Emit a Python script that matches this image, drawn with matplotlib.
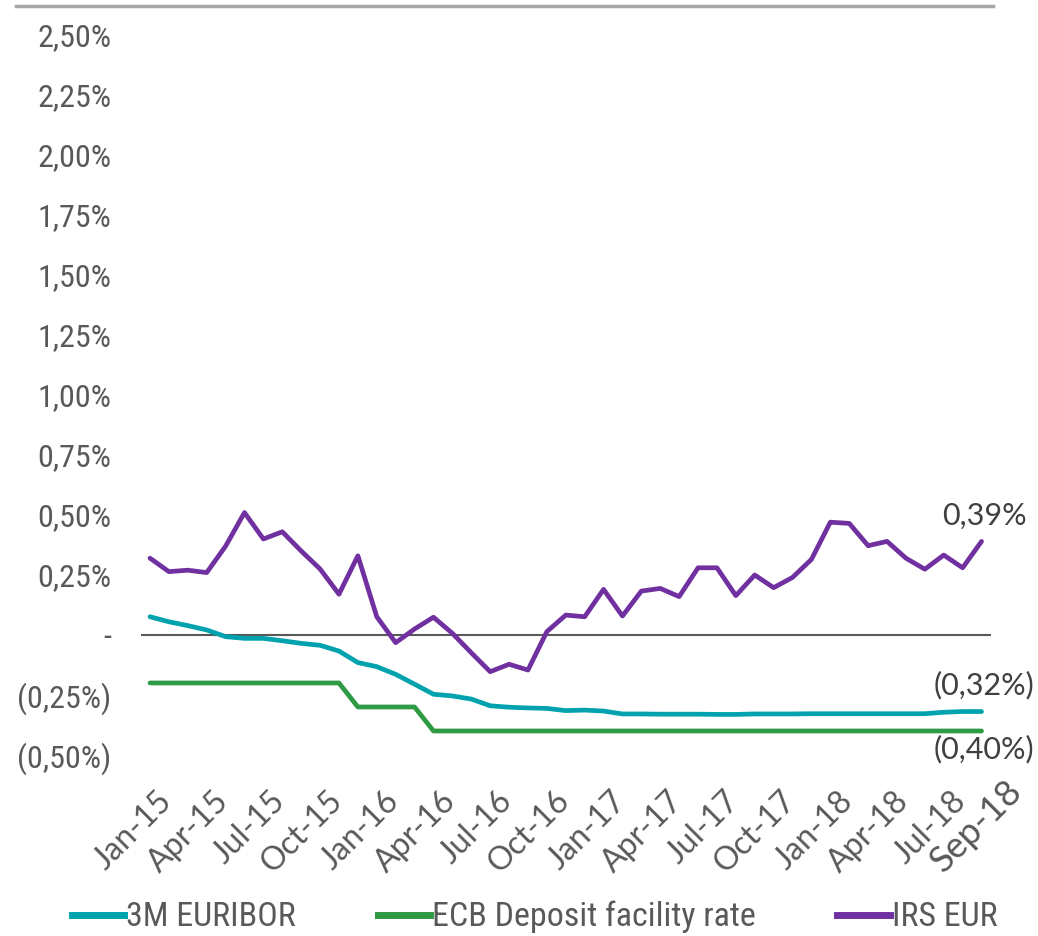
import matplotlib
matplotlib.use("Agg")
import matplotlib.pyplot as plt
from matplotlib import font_manager
from matplotlib.font_manager import FontProperties
from matplotlib.ticker import FuncFormatter
from matplotlib.transforms import ScaledTranslation

# monthly series Jan-15 .. Sep-18 (in %)
months = ["Jan-15", "Feb-15", "Mar-15", "Apr-15", "May-15", "Jun-15", "Jul-15", "Aug-15", "Sep-15", "Oct-15", "Nov-15", "Dec-15",
          "Jan-16", "Feb-16", "Mar-16", "Apr-16", "May-16", "Jun-16", "Jul-16", "Aug-16", "Sep-16", "Oct-16", "Nov-16", "Dec-16",
          "Jan-17", "Feb-17", "Mar-17", "Apr-17", "May-17", "Jun-17", "Jul-17", "Aug-17", "Sep-17", "Oct-17", "Nov-17", "Dec-17",
          "Jan-18", "Feb-18", "Mar-18", "Apr-18", "May-18", "Jun-18", "Jul-18", "Aug-18", "Sep-18"]

euribor = [0.076, 0.055, 0.039, 0.021, -0.007, -0.014, -0.014, -0.024, -0.035, -0.043, -0.067, -0.115,
           -0.132, -0.164, -0.205, -0.247, -0.254, -0.267, -0.295, -0.301, -0.304, -0.306, -0.315, -0.313,
           -0.317, -0.329, -0.329, -0.330, -0.330, -0.330, -0.331, -0.331, -0.329, -0.329, -0.329, -0.328,
           -0.328, -0.328, -0.328, -0.328, -0.328, -0.328, -0.322, -0.319, -0.319]

ecb = [-0.20] * 11 + [-0.30] * 4 + [-0.40] * 30

irs = [0.32, 0.264, 0.27, 0.26, 0.37, 0.51, 0.40, 0.43, 0.35, 0.275, 0.17, 0.33,
       0.076, -0.032, 0.025, 0.074, 0.007, -0.074, -0.153, -0.122, -0.146, 0.014, 0.083, 0.076,
       0.19, 0.079, 0.183, 0.194, 0.16, 0.28, 0.28, 0.164, 0.25, 0.197, 0.24, 0.315,
       0.47, 0.465, 0.372, 0.39, 0.32, 0.274, 0.333, 0.28, 0.39]

series_names = ["3M EURIBOR", "ECB Deposit facility rate", "IRS EUR"]
end_labels = ["(0,32%)", "(0,40%)", "0,39%"]

colors = ["#00A3AD", "#2E9A44", "#7030A0"]
grey = "#595959"


def condensed_font():
    # look for a regular-weight condensed/narrow face among installed fonts
    narrow_words = ("condensed", "narrow")
    for pref in ("Roboto", "Open Sans", "Noto Sans", "Liberation", "DejaVu", ""):
        for f in font_manager.fontManager.ttflist:
            st = str(f.stretch).lower()
            fn = f.fname.lower()
            is_narrow = (any(w in st for w in narrow_words) or any(w in f.name.lower() for w in narrow_words)
                         or any(w in fn for w in narrow_words))
            if not is_narrow or "extra" in st or "ultra" in st:
                continue
            if f.style != "normal" or f.weight not in (400, "normal", "regular"):
                continue
            if "semi" in fn or "semi" in st:
                continue
            if f.name.startswith(pref):
                return FontProperties(fname=f.fname)
    return FontProperties(family="Roboto")


cond = condensed_font()
plt.rcParams['font.family'] = ['Lato', 'DejaVu Sans']

fig = plt.figure(figsize=(10.38, 9.36), dpi=100)
ax = fig.add_axes([0.1354, 0.1934, 0.8193, 0.7692])

x = list(range(len(months)))
for vals, c in zip([euribor, ecb, irs], colors):
    ax.plot(x, vals, color=c, lw=3.4, solid_capstyle="round", solid_joinstyle="round", zorder=3)
ax.axhline(0, color=grey, lw=1.5, zorder=2)

ax.set_xlim(-0.5, 44.5)
ax.set_ylim(-0.5, 2.5)
ax.set_yticks([i * 0.25 for i in range(-2, 11)])


def fmt(v, pos):
    if abs(v) < 1e-9:
        return "-"
    s = f"{abs(v):.2f}%".replace(".", ",")
    return f"({s})" if v < 0 else s


ax.yaxis.set_major_formatter(FuncFormatter(fmt))
for sp in ax.spines.values():
    sp.set_visible(False)
ax.tick_params(axis="y", length=0, pad=21, labelcolor=grey)
for t in ax.get_yticklabels():
    t.set_fontproperties(cond)
    t.set_fontsize(23)
ax.tick_params(axis="x", length=0, pad=22)

xt = list(range(0, 43, 3)) + [44]
ax.set_xticks(xt)
ax.set_xticklabels([months[i] for i in xt], rotation=45, ha="right", rotation_mode="anchor",
                   fontsize=23, color=grey)
xlabels = ax.get_xticklabels()
for t in xlabels[:-1]:
    t.set_transform(t.get_transform() + ScaledTranslation(5 / 72, 0, fig.dpi_scale_trans))
xlabels[-1].set_fontsize(26)
xlabels[-1].set_transform(xlabels[-1].get_transform() + ScaledTranslation(17 / 72, 8 / 72, fig.dpi_scale_trans))

# end-of-series labels
lab_font = dict(fontsize=22, color="#404040", ha="center")
ax.annotate(end_labels[2], (44, irs[-1]), xytext=(2, 8), textcoords="offset points", va="bottom", **lab_font)
ax.annotate(end_labels[0], (44, euribor[-1]), xytext=(2, 9), textcoords="offset points", va="bottom", **lab_font)
ax.annotate(end_labels[1], (44, ecb[-1]), xytext=(2, -3), textcoords="offset points", va="top", **lab_font)

# thin rule at the top of the figure
fig.add_artist(plt.Line2D([0.015, 0.957], [0.994, 0.994], color="#A6A6A6", lw=2.5))

handles = [plt.Line2D([], [], color=c, lw=5) for c in colors]
leg_font = cond.copy()
leg_font.set_size(24.5)
fig.legend(handles, series_names, loc="lower center", bbox_to_anchor=(0.515, -0.03), ncol=3,
           frameon=False, prop=leg_font, handlelength=1.55, handletextpad=0.05, columnspacing=2.4,
           labelcolor=grey)

fig.savefig("out.png", dpi=100)
